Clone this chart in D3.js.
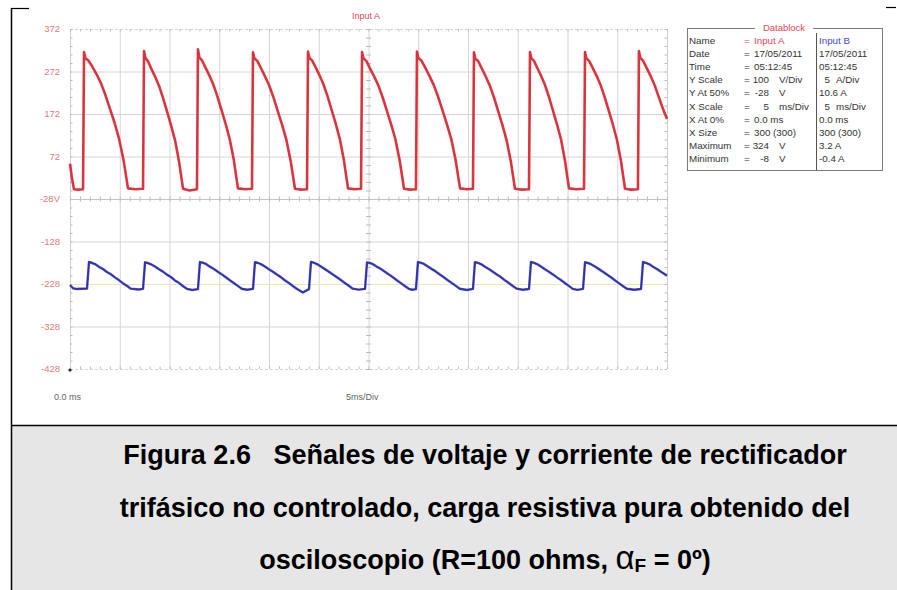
<!DOCTYPE html>
<html>
<head>
<meta charset="utf-8">
<script src="https://cdn.jsdelivr.net/npm/d3@7"></script>
<style>
  html, body { margin: 0; padding: 0; background: #fff; }
  svg { display: block; }
  text { white-space: pre; }
</style>
</head>
<body>
<svg id="chart" width="897" height="590"></svg>
<script>
// Oscilloscope capture: channel A (voltage, V) and channel B (current, A), 0–60 ms
const timeA = [0,0.2,0.4,0.8,1.31,1.41,1.55,1.85,2.2,2.66,3.12,3.57,4.02,4.47,4.93,5.38,5.83,6.6,
  7.34,7.44,7.58,7.84,8.14,8.55,8.95,9.35,9.75,10.15,10.56,10.96,11.36,12.0,
  12.76,12.86,13.0,13.27,13.58,14.0,14.41,14.82,15.23,15.64,16.06,16.47,16.88,17.6,
  18.29,18.39,18.53,18.82,19.15,19.59,20.02,20.45,20.88,21.31,21.75,22.18,22.61,23.2,
  23.82,23.92,24.06,24.33,24.64,25.06,25.47,25.88,26.29,26.7,27.12,27.53,27.94,28.6,
  29.25,29.35,29.49,29.78,30.11,30.55,30.98,31.41,31.84,32.27,32.71,33.14,33.57,34.2,
  34.77,34.87,35.01,35.31,35.66,36.1,36.54,36.99,37.43,37.87,38.32,38.76,39.2,39.9,
  40.5,40.6,40.74,41.03,41.34,41.77,42.19,42.61,43.03,43.45,43.88,44.3,44.72,45.4,
  46.13,46.23,46.37,46.63,46.93,47.34,47.74,48.14,48.54,48.94,49.35,49.75,50.15,50.9,
  51.66,51.76,51.9,52.17,52.48,52.9,53.31,53.72,54.13,54.54,54.96,55.37,55.78,56.4,
  57.08,57.18,57.32,57.58,57.9,58.32,58.74,59.16,59.58,60.0];
const voltsA = [55,20,-5,-6,-5,318,303,298,285,266,244,216,184,152,114,64,-3,-5,
  -4,320,304,296,280,260,238,210,178,146,110,60,-4,-8,
  -5,324,305,298,283,263,241,213,181,149,112,63,-3,-5,
  -4,317,303,297,282,261,239,211,179,147,111,61,-4,-6,
  -5,319,304,298,284,264,242,214,182,150,113,63,-3,-5,
  -4,318,303,297,281,261,240,212,180,148,112,62,-4,-6,
  -5,319,304,298,283,263,241,213,181,149,113,63,-3,-5,
  -4,317,302,296,281,261,239,211,179,147,110,61,-4,-6,
  -5,318,303,297,282,262,240,212,180,148,112,62,-3,-5,
  -4,318,303,297,283,263,241,213,181,149,112,62,-4,-6,
  -5,320,304,298,283,263,241,213,185,160];

const timeB = [0,0.3,0.6,1.2,1.71,1.91,2.16,2.51,2.91,3.31,3.71,4.11,4.51,4.91,5.31,5.71,6.11,6.9,
  7.34,7.54,7.79,8.14,8.54,8.94,9.34,9.74,10.14,10.54,10.94,11.34,11.74,12.3,
  12.86,13.06,13.31,13.66,14.06,14.46,14.86,15.26,15.66,16.06,16.46,16.86,17.26,17.8,
  18.39,18.59,18.84,19.19,19.59,19.99,20.39,20.79,21.19,21.59,21.99,22.39,22.79,23.4,
  24.02,24.22,24.47,24.82,25.22,25.62,26.02,26.42,26.82,27.22,27.62,28.02,28.42,29.0,
  29.65,29.85,30.1,30.45,30.85,31.25,31.65,32.05,32.45,32.85,33.25,33.65,34.05,34.4,
  34.77,34.97,35.22,35.57,35.97,36.37,36.77,37.17,37.57,37.97,38.37,38.77,39.17,39.9,
  40.5,40.7,40.95,41.3,41.7,42.1,42.5,42.9,43.3,43.7,44.1,44.5,44.9,45.5,
  46.13,46.33,46.58,46.93,47.33,47.73,48.13,48.53,48.93,49.33,49.73,50.13,50.53,51.0,
  51.56,51.76,52.01,52.36,52.76,53.16,53.56,53.96,54.36,54.76,55.16,55.56,55.96,56.7,
  57.39,57.59,57.84,58.19,58.59,58.99,59.39,59.79,60.0];
const ampsB = [0.48,0.1,0.02,0.04,0.05,3.2,3.1,2.95,2.62,2.36,2.02,1.74,1.38,1.06,0.7,0.4,0.05,-0.05,
  0.02,3.15,3.08,2.92,2.66,2.33,2.06,1.7,1.42,1.02,0.74,0.36,0.03,-0.1,
  0.0,3.18,3.12,2.96,2.64,2.37,2.04,1.73,1.39,1.05,0.71,0.38,0.04,-0.08,
  0.03,3.16,3.1,2.94,2.65,2.34,2.05,1.71,1.41,1.04,0.73,0.37,0.05,-0.4,
  0.0,3.2,3.11,2.95,2.66,2.35,2.03,1.72,1.4,1.06,0.72,0.39,0.05,-0.06,
  0.02,3.14,3.08,2.93,2.63,2.36,2.04,1.73,1.39,1.04,0.7,0.36,0.03,-0.08,
  0.0,3.18,3.12,2.96,2.65,2.35,2.06,1.71,1.4,1.05,0.72,0.38,0.04,-0.1,
  0.02,3.17,3.1,2.94,2.64,2.36,2.03,1.72,1.41,1.04,0.71,0.37,0.05,-0.07,
  0.01,3.19,3.11,2.95,2.66,2.34,2.05,1.73,1.38,1.06,0.72,0.38,0.03,-0.09,
  0.02,3.16,3.09,2.93,2.65,2.35,2.04,1.71,1.4,1.05,0.7,0.36,0.04,-0.08,
  0.01,3.18,3.1,2.94,2.64,2.36,2.04,1.74,1.62];

// Axis ticks (V) and labels
const voltTicks = [372, 272, 172, 72, -28, -128, -228, -328, -428];
const voltLabels = ["372", "272", "172", "72", "-28V", "-128", "-228", "-328", "-428"];
const timeTicks = [0,5,10,15,20,25,30,35,40,45,50,55,60];

// Datablock rows ("|" splits a number from its unit)
const rowLabels = ["Name","Date","Time","Y Scale","Y At 50%","X Scale","X At 0%","X Size","Maximum","Minimum"];
const inputA = ["Input A","17/05/2011","05:12:45","100|V/Div","-28|V","5|ms/Div","0.0 ms","300 (300)","324|V","-8|V"];
const inputB = ["Input B","17/05/2011","05:12:45","5|A/Div","10.6 A","5|ms/Div","0.0 ms","300 (300)","3.2 A","-0.4 A"];

const captionLines = [
  "Figura 2.6   Señales de voltaje y corriente de rectificador",
  "trifásico no controlado, carga resistiva pura obtenido del"
];

const svg = d3.select("#chart");
const FONT = "'Liberation Sans', Arial, sans-serif";

// Frame pieces and caption panel
svg.append("rect").attr("x", 12).attr("y", 425).attr("width", 885).attr("height", 165).attr("fill", "#e6e6e6");
svg.append("line").attr("x1", 11).attr("x2", 897).attr("y1", 425.5).attr("y2", 425.5).attr("stroke", "#000").attr("stroke-width", 1.5);
svg.append("line").attr("x1", 11.5).attr("x2", 11.5).attr("y1", 8).attr("y2", 590).attr("stroke", "#000").attr("stroke-width", 1.5);
svg.append("line").attr("x1", 11).attr("x2", 29).attr("y1", 8.5).attr("y2", 8.5).attr("stroke", "#000").attr("stroke-width", 1.2);
svg.append("line").attr("x1", 886).attr("x2", 896).attr("y1", 7.5).attr("y2", 7.5).attr("stroke", "#000").attr("stroke-width", 1.2);

// Scales
const x = d3.scaleLinear().domain([0, 60]).range([70, 667]);
const yV = d3.scaleLinear().domain([-428, 372]).range([369, 29]);
const yA = d3.scaleLinear().domain([10.6 - 20, 10.6 + 20]).range([369, 29]);

const grid = svg.append("g");
// vertical grid
grid.selectAll("line.v").data(timeTicks).join("line")
  .attr("x1", d => x(d) + 0.5).attr("x2", d => x(d) + 0.5)
  .attr("y1", yV(372)).attr("y2", yV(-428))
  .attr("stroke", d => (d === 0 || d === 60) ? "#cfcfcf" : "#d6d6d6").attr("stroke-width", 1);
// horizontal grid
grid.selectAll("line.h").data(voltTicks).join("line")
  .attr("x1", x(0)).attr("x2", x(60))
  .attr("y1", d => yV(d) + 0.5).attr("y2", d => yV(d) + 0.5)
  .attr("stroke", d => d === -228 ? "#ebe9b8" : (d === -28 ? "#c4c4c4" : "#d6d6d6"))
  .attr("stroke-dasharray", d => (d === 372 || d === -428) ? "3,2" : null)
  .attr("stroke-width", 1);

// minor ticks: along the centre and border axes, 5 per division
const minorT = d3.range(0, 60.001, 1);
const minorV = d3.range(-428, 372.001, 20);
function hTicks(v, dir) {
  grid.append("g").selectAll("line").data(minorT).join("line")
    .attr("x1", d => x(d) + 0.5).attr("x2", d => x(d) + 0.5)
    .attr("y1", yV(v) - (dir <= 0 ? 2.5 : 0)).attr("y2", yV(v) + (dir >= 0 ? 2.5 : 0))
    .attr("stroke", "#bdbdbd").attr("stroke-width", 1);
}
function vTicks(t, dir) {
  grid.append("g").selectAll("line").data(minorV).join("line")
    .attr("y1", d => yV(d) + 0.5).attr("y2", d => yV(d) + 0.5)
    .attr("x1", x(t) - (dir <= 0 ? 2.5 : 0)).attr("x2", x(t) + (dir >= 0 ? 2.5 : 0))
    .attr("stroke", "#bdbdbd").attr("stroke-width", 1);
}
hTicks(-28, 0); hTicks(372, 1); hTicks(-428, -1);
vTicks(30, 0); vTicks(0, 1); vTicks(60, -1);

// Y labels
svg.append("g").selectAll("text").data(voltTicks).join("text")
  .attr("x", 60).attr("y", d => yV(d)).attr("dy", "0.35em")
  .attr("text-anchor", "end").attr("font-family", FONT).attr("font-size", 9.5)
  .attr("fill", "#e07a80")
  .text((d, i) => voltLabels[i]);

// origin marker
svg.append("circle").attr("cx", x(0)).attr("cy", yV(-428) + 1).attr("r", 1.6).attr("fill", "#222");

// X labels and title
svg.append("text").attr("x", 54).attr("y", 400).attr("font-family", FONT).attr("font-size", 9)
  .attr("fill", "#666").text("0.0 ms");
svg.append("text").attr("x", 346).attr("y", 400).attr("font-family", FONT).attr("font-size", 9)
  .attr("fill", "#666").text("5ms/Div");
svg.append("text").attr("x", 366).attr("y", 19).attr("text-anchor", "middle").attr("font-family", FONT)
  .attr("font-size", 9).attr("fill", "#e0474f").text("Input A");

// Traces
const lineA = d3.line().x((d, i) => x(timeA[i])).y(d => yV(d));
const lineB = d3.line().x((d, i) => x(timeB[i])).y(d => yA(d));
svg.append("path").attr("d", lineA(voltsA)).attr("fill", "none")
  .attr("stroke", "#e2363f").attr("stroke-width", 2.6).attr("stroke-linejoin", "round");
svg.append("path").attr("d", lineA(voltsA)).attr("fill", "none")
  .attr("stroke", "#b8363c").attr("stroke-width", 0.8).attr("stroke-opacity", 0.6);
svg.append("path").attr("d", lineB(ampsB)).attr("fill", "none")
  .attr("stroke", "#4343dc").attr("stroke-width", 2.4).attr("stroke-linejoin", "round");
svg.append("path").attr("d", lineB(ampsB)).attr("fill", "none")
  .attr("stroke", "#26265e").attr("stroke-width", 0.9).attr("stroke-opacity", 0.8);

// Datablock
const db = svg.append("g");
const bx0 = 687, bx1 = 882, by0 = 28, by1 = 170, divX = 816;
db.append("rect").attr("x", bx0 + 0.5).attr("y", by0 + 0.5).attr("width", bx1 - bx0).attr("height", by1 - by0)
  .attr("fill", "#fff").attr("stroke", "#7a7a7a").attr("stroke-width", 1);
db.append("rect").attr("x", 755).attr("y", by0 - 2).attr("width", 58).attr("height", 5).attr("fill", "#fff");
db.append("text").attr("x", 784).attr("y", by0 + 3).attr("text-anchor", "middle")
  .attr("font-family", FONT).attr("font-size", 9.5).attr("fill", "#e0474f").text("Datablock");
db.append("line").attr("x1", divX + 0.5).attr("x2", divX + 0.5).attr("y1", by0 + 5).attr("y2", by1)
  .attr("stroke", "#555").attr("stroke-width", 1);

const rowY = i => 44 + i * 13.1;
const tx = (sel) => sel.attr("font-family", FONT).attr("font-size", 9.8);
rowLabels.forEach((lab, i) => {
  tx(db.append("text")).attr("x", 689).attr("y", rowY(i)).attr("fill", "#333").text(lab);
  tx(db.append("text")).attr("x", 744).attr("y", rowY(i)).attr("fill", i === 0 ? "#e0474f" : "#333").text("=");
  const a = inputA[i], b = inputB[i];
  const colA = i === 0 ? "#e0474f" : "#333";
  if (a.includes("|")) {
    const [n, u] = a.split("|");
    tx(db.append("text")).attr("x", 769).attr("y", rowY(i)).attr("text-anchor", "end").attr("fill", colA).text(n);
    tx(db.append("text")).attr("x", 779).attr("y", rowY(i)).attr("fill", colA).text(u);
  } else {
    tx(db.append("text")).attr("x", 754).attr("y", rowY(i)).attr("fill", colA).text(a);
  }
  const colB = i === 0 ? "#4a4ad0" : "#333";
  if (b.includes("|")) {
    const [n, u] = b.split("|");
    tx(db.append("text")).attr("x", 830).attr("y", rowY(i)).attr("text-anchor", "end").attr("fill", colB).text(n);
    tx(db.append("text")).attr("x", 836).attr("y", rowY(i)).attr("fill", colB).text(u);
  } else {
    tx(db.append("text")).attr("x", 819).attr("y", rowY(i)).attr("fill", colB).text(b);
  }
});

// Caption
const cap = svg.append("g").attr("font-family", FONT).attr("font-weight", "bold").attr("fill", "#000")
  .attr("font-size", 27).attr("text-anchor", "middle");
captionLines.forEach((s, i) => {
  cap.append("text").attr("x", 485).attr("y", 464 + i * 52.5).text(s);
});
const last = cap.append("text").attr("x", 485).attr("y", 569);
last.append("tspan").text("osciloscopio (R=100 ohms, ");
last.append("tspan").attr("font-size", 33).attr("font-weight", "normal").text("α");
last.append("tspan").attr("font-size", 19).attr("dy", 3).text("F");
last.append("tspan").attr("dy", -3).text(" = 0º)");
</script>
</body>
</html>
